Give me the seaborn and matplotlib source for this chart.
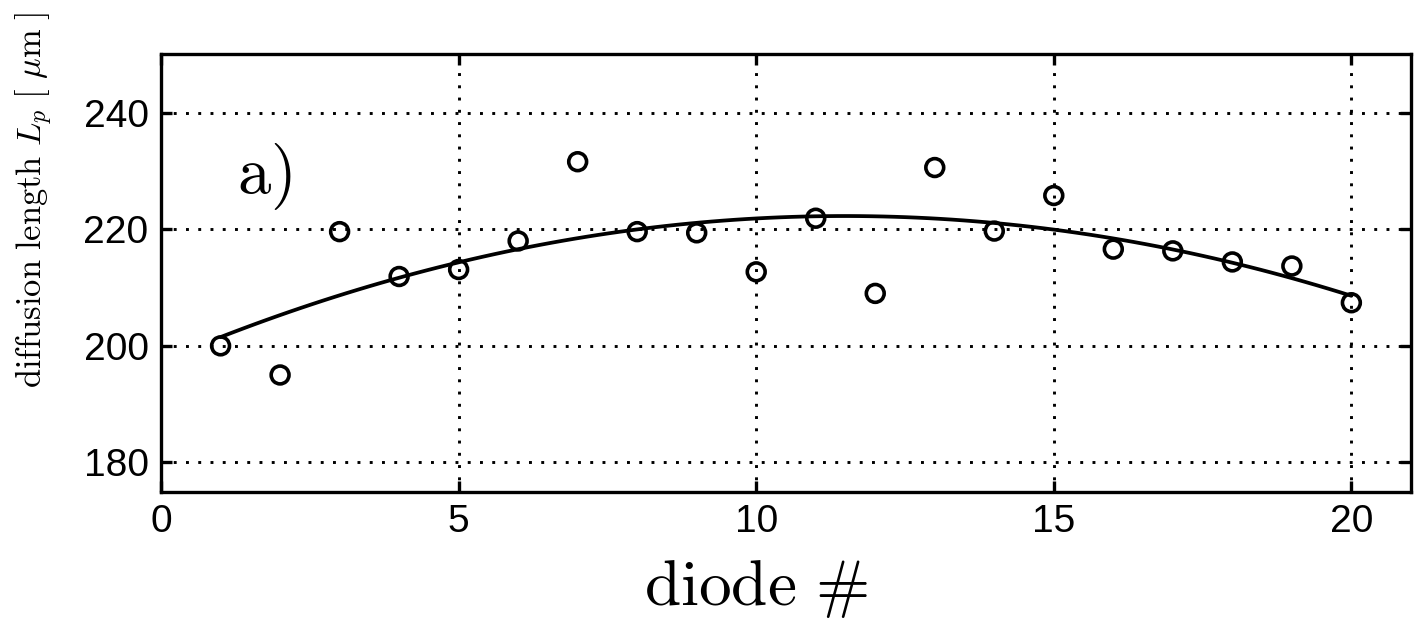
import numpy as np
import pandas as pd
import matplotlib
matplotlib.use("Agg")
import matplotlib.pyplot as plt
import seaborn as sns

# ---- data ----
diode = [1, 2, 3, 4, 5, 6, 7, 8, 9, 10, 11, 12, 13, 14, 15, 16, 17, 18, 19, 20]
diff_len = [200.0, 195.0, 219.6, 211.9, 213.1, 218.0, 231.6, 219.6, 219.4, 212.7,
            221.9, 209.0, 230.6, 219.7, 225.8, 216.6, 216.3, 214.4, 213.7, 207.4]
x_ticks = [0, 5, 10, 15, 20]
y_ticks = [180, 200, 220, 240]

df = pd.DataFrame({"diode": diode, "Lp": diff_len})

sns.set_theme(style="white")
plt.rcParams["font.family"] = ["Liberation Sans", "DejaVu Sans"]
plt.rcParams["mathtext.fontset"] = "cm"

fig = plt.figure(figsize=(14.14, 6.3), dpi=100)
ax = fig.add_axes([0.1139, 0.2198, 0.8839, 0.6937])

# quadratic fit curve
sns.regplot(data=df, x="diode", y="Lp", order=2, ci=None, scatter=False,
            truncate=True, ax=ax, line_kws=dict(color="black", lw=2.7))
# open-circle data points
sns.scatterplot(data=df, x="diode", y="Lp", ax=ax, marker="o", s=165,
                facecolor="none", edgecolor="black", linewidth=2.6, zorder=4)

ax.set_xlim(0, 21)
ax.set_ylim(175, 250)
ax.set_xticks(x_ticks)
ax.set_yticks(y_ticks)
ax.set_xticklabels([str(t) for t in x_ticks])
ax.set_yticklabels([str(t) for t in y_ticks])

ax.grid(True, color="black", linestyle=(0, (1, 3.2)), linewidth=2.1)
ax.set_axisbelow(True)

for sp in ax.spines.values():
    sp.set_visible(True)
    sp.set_color("black")
    sp.set_linewidth(2.4)

ax.tick_params(axis="both", which="major", direction="in", length=8, width=2.4,
               colors="black", labelsize=28, top=True, right=True,
               bottom=True, left=True)
ax.tick_params(axis="x", pad=9)
ax.tick_params(axis="y", pad=9)

ax.set_xlabel(r"$\mathrm{diode}\ \#$", fontsize=47, color="black")
ax.xaxis.set_label_coords(0.4756, -0.152)
ax.xaxis.label.set_va("top")
ax.set_ylabel(r"$\mathrm{diffusion\ length}\ L_p\ [\ \mu\mathrm{m}\ ]$", fontsize=24.8,
              color="black")
ax.yaxis.set_label_coords(-0.086, 0.668)

ax.text(0.061, 0.683, r"$\mathrm{a)}$", transform=ax.transAxes, fontsize=48,
        ha="left", va="baseline", color="black")

fig.savefig("out.png", dpi=100, facecolor="white")
